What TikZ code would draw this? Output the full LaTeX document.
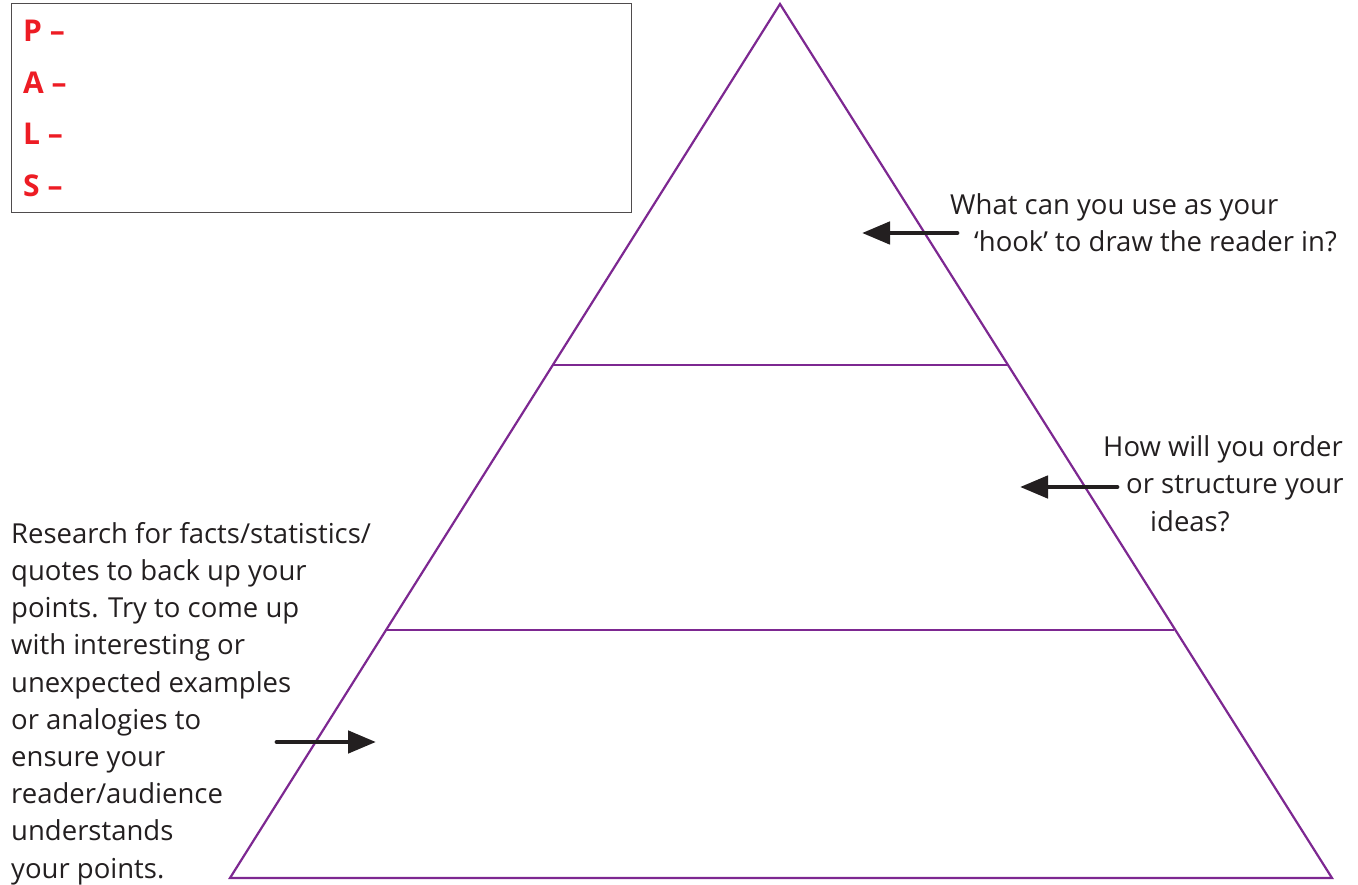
\documentclass[tikz,border=0pt]{standalone}
\usepackage{fontspec}
\setmainfont{Open Sans}
\usetikzlibrary{arrows.meta}
\definecolor{pyr}{RGB}{125,40,145}
\definecolor{palsred}{RGB}{237,28,36}
\definecolor{txt}{RGB}{35,31,32}
\begin{document}
\begin{tikzpicture}[x=1pt,y=-1pt,
  edge/.style={draw=pyr,line width=2.2pt},
  note/.style={font=\fontsize{27.5}{37.2}\selectfont,text=txt,inner sep=0pt,align=left,anchor=base west},
  letter/.style={font=\fontsize{30}{30}\selectfont\bfseries,text=palsred,inner sep=0pt,anchor=base west},
  pointer/.style={draw=txt,line width=4.8pt,line cap=round,-{Triangle[length=28pt,width=22pt]}},
]
\useasboundingbox (0,0) rectangle (1358,885);
% PALS box
\node[draw=txt!80,line width=1.2pt,minimum width=620pt,minimum height=209pt,anchor=north west,inner sep=0pt] (box) at (11,3) {};
\node[letter] (p) at (23,42) {P –};
\node[letter] (a) at (23,94) {A –};
\node[letter] (l) at (23,145) {L –};
\node[letter] (s) at (23,197) {S –};
% pyramid
\coordinate (apex) at (780,4);
\coordinate (bl) at (230,878);
\coordinate (br) at (1332,878);
\path[edge] (apex) -- (br) -- (bl) -- cycle;
\draw[edge] (553,365) coordinate (m1l) -- (1007,365) coordinate (m1r);
\draw[edge] (386,630) coordinate (m2l) -- (1174,630) coordinate (m2r);
% notes (anchor base = baseline of the last line)
\node[note] (n1) at (950,252) {What can you use as your\\\hspace{24pt}‘hook’ to draw the reader in?};
\node[note] (n2) at (1103,531) {How will you order\\\hspace{23pt}or structure your\\\hspace{47pt}ideas?};
\node[note] (n3) at (11,878) {Research for facts/statistics/\\quotes to back up your\\points. Try to come up\\with interesting or\\unexpected examples\\or analogies to\\ensure your\\reader/audience\\understands\\your points.};
% arrows
\coordinate (a1s) at (957,233);
\coordinate (a1e) at (862,233);
\coordinate (a2s) at (1117,487);
\coordinate (a2e) at (1020,487);
\coordinate (a3s) at (277,742);
\coordinate (a3e) at (376,742);
\draw[pointer] (a1s) -- (a1e);
\draw[pointer] (a2s) -- (a2e);
\draw[pointer] (a3s) -- (a3e);
\end{tikzpicture}
\end{document}
